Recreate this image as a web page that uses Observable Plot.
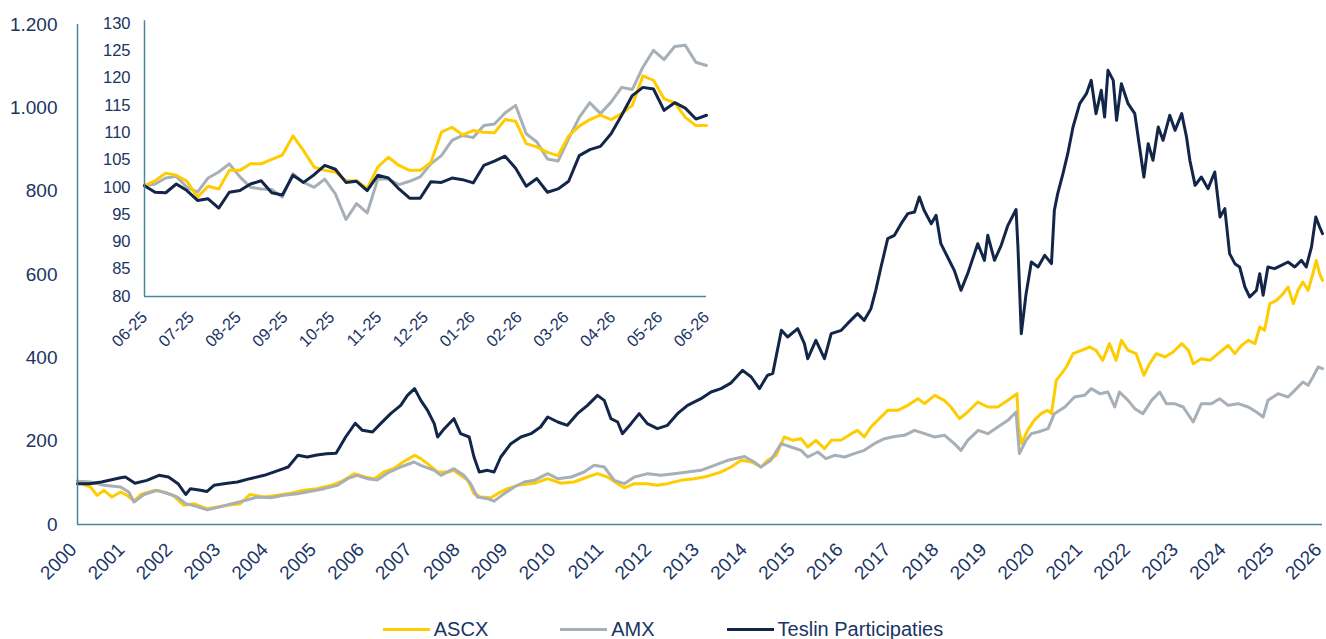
<!DOCTYPE html>
<html><head><meta charset="utf-8">
<script src="https://cdn.jsdelivr.net/npm/d3@7"></script>
<script src="https://cdn.jsdelivr.net/npm/@observablehq/plot@0.6"></script>
<style>
html,body{margin:0;padding:0;background:#fff;width:1326px;height:639px;overflow:hidden;font-family:"Liberation Sans",Arial,sans-serif;}
#wrap{position:relative;width:1326px;height:612px;}
#inset{position:absolute;left:0;top:0;}
#legend{display:flex;justify-content:center;align-items:center;gap:72px;height:20px;margin-top:7px;font-size:20px;color:#1b3464;line-height:20px;}
.item{display:flex;align-items:center;white-space:nowrap;}
.sw{width:47px;height:3px;margin-right:4px;}
</style></head>
<body>
<div id="wrap"><div id="main"></div><div id="inset"></div></div>
<div id="legend"></div>
<script>
// ---- Data (x = position on year axis, value = index, start = 100) ----
const years = [2000,2001,2002,2003,2004,2005,2006,2007,2008,2009,2010,2011,2012,2013,2014,2015,2016,2017,2018,2019,2020,2021,2022,2023,2024,2025,2026];
const yTicks = [0,200,400,600,800,1000,1200];

const ascx = [[2000.00,102],[2000.27,90],[2000.41,70],[2000.55,82],[2000.72,66],[2000.90,78],[2001.04,70],[2001.18,56],[2001.32,72],[2001.60,82],[2001.80,78],[2002.00,70],[2002.22,46],[2002.43,50],[2002.70,38],[2002.92,42],[2003.13,46],[2003.40,50],[2003.60,72],[2003.90,66],[2004.17,70],[2004.45,75],[2004.73,82],[2005.00,86],[2005.30,94],[2005.56,106],[2005.78,122],[2006.00,114],[2006.20,110],[2006.40,126],[2006.60,134],[2006.80,150],[2006.92,158],[2007.04,166],[2007.17,158],[2007.31,146],[2007.52,126],[2007.73,126],[2007.86,130],[2008.00,118],[2008.15,106],[2008.28,74],[2008.42,66],[2008.63,64],[2008.77,74],[2008.98,86],[2009.19,94],[2009.54,99],[2009.82,110],[2010.10,99],[2010.37,102],[2010.65,114],[2010.86,122],[2011.07,114],[2011.28,98],[2011.42,88],[2011.63,98],[2011.90,98],[2012.11,94],[2012.32,98],[2012.60,106],[2012.88,110],[2013.16,116],[2013.44,126],[2013.65,138],[2013.86,154],[2014.07,150],[2014.28,138],[2014.41,154],[2014.59,166],[2014.76,210],[2014.94,202],[2015.11,206],[2015.25,186],[2015.42,202],[2015.60,182],[2015.74,202],[2015.95,203],[2016.16,218],[2016.29,226],[2016.43,210],[2016.57,234],[2016.78,258],[2016.92,274],[2017.13,274],[2017.34,286],[2017.55,302],[2017.69,290],[2017.90,310],[2018.10,298],[2018.24,282],[2018.42,254],[2018.59,270],[2018.80,294],[2019.01,282],[2019.22,282],[2019.43,298],[2019.62,314],[2019.65,234],[2019.72,194],[2019.84,226],[2019.98,250],[2020.12,266],[2020.26,274],[2020.34,266],[2020.44,346],[2020.55,362],[2020.65,378],[2020.79,410],[2020.97,418],[2021.14,426],[2021.27,418],[2021.41,394],[2021.55,434],[2021.69,394],[2021.80,442],[2021.94,418],[2022.11,410],[2022.27,358],[2022.39,386],[2022.53,410],[2022.71,402],[2022.88,414],[2023.06,434],[2023.20,418],[2023.30,386],[2023.47,398],[2023.65,394],[2023.82,410],[2024.03,430],[2024.17,410],[2024.31,430],[2024.45,442],[2024.59,434],[2024.69,474],[2024.79,466],[2024.90,530],[2025.04,538],[2025.18,554],[2025.28,570],[2025.39,530],[2025.49,562],[2025.59,582],[2025.70,562],[2025.80,602],[2025.87,634],[2025.94,602],[2026.00,586]];

const amx = [[2000.00,104],[2000.27,102],[2000.55,94],[2000.90,90],[2001.07,78],[2001.18,54],[2001.39,72],[2001.66,82],[2001.87,75],[2002.08,66],[2002.26,50],[2002.50,43],[2002.71,35],[2002.99,43],[2003.27,51],[2003.55,59],[2003.75,66],[2004.03,64],[2004.31,70],[2004.59,74],[2004.87,80],[2005.15,86],[2005.43,94],[2005.64,110],[2005.84,118],[2006.05,110],[2006.26,107],[2006.47,123],[2006.75,138],[2007.03,150],[2007.17,142],[2007.45,130],[2007.59,118],[2007.86,134],[2008.07,118],[2008.21,98],[2008.35,66],[2008.56,62],[2008.70,56],[2008.91,74],[2009.12,90],[2009.33,102],[2009.54,106],[2009.82,122],[2010.03,110],[2010.31,114],[2010.58,126],[2010.79,142],[2011.00,138],[2011.21,106],[2011.42,98],[2011.63,114],[2011.91,122],[2012.18,118],[2012.46,122],[2012.74,126],[2013.02,130],[2013.30,142],[2013.58,154],[2013.93,163],[2014.13,150],[2014.27,138],[2014.48,154],[2014.69,194],[2014.90,186],[2015.11,178],[2015.25,162],[2015.46,174],[2015.63,158],[2015.81,166],[2016.02,162],[2016.22,170],[2016.43,178],[2016.64,194],[2016.85,206],[2017.06,211],[2017.27,214],[2017.48,226],[2017.69,218],[2017.90,210],[2018.11,214],[2018.31,194],[2018.45,178],[2018.59,202],[2018.81,226],[2019.01,218],[2019.22,234],[2019.43,250],[2019.60,270],[2019.67,170],[2019.81,202],[2019.92,218],[2020.06,222],[2020.27,230],[2020.40,266],[2020.62,282],[2020.82,306],[2021.03,310],[2021.17,326],[2021.35,314],[2021.52,318],[2021.66,282],[2021.76,318],[2021.94,298],[2022.08,278],[2022.25,266],[2022.43,298],[2022.60,318],[2022.74,290],[2022.91,290],[2023.09,282],[2023.30,246],[2023.47,290],[2023.68,290],[2023.85,302],[2024.03,286],[2024.24,290],[2024.45,282],[2024.62,270],[2024.76,258],[2024.86,298],[2025.07,314],[2025.28,306],[2025.42,322],[2025.59,342],[2025.70,334],[2025.80,354],[2025.91,378],[2026.00,374]];

const teslin = [[2000.00,98],[2000.25,98],[2000.50,102],[2000.90,112],[2001.00,114],[2001.20,99],[2001.45,106],[2001.70,118],[2001.90,114],[2002.10,98],[2002.26,72],[2002.36,86],[2002.57,82],[2002.70,79],[2002.85,94],[2003.13,99],[2003.34,102],[2003.60,110],[2003.90,118],[2004.20,130],[2004.40,138],[2004.60,166],[2004.80,162],[2005.00,167],[2005.20,170],[2005.40,171],[2005.60,210],[2005.80,243],[2005.95,226],[2006.16,222],[2006.33,242],[2006.54,266],[2006.75,286],[2006.89,310],[2007.04,326],[2007.17,298],[2007.31,274],[2007.45,242],[2007.52,210],[2007.66,230],[2007.86,254],[2008.00,218],[2008.18,210],[2008.28,162],[2008.39,126],[2008.56,130],[2008.70,126],[2008.84,162],[2009.05,194],[2009.26,210],[2009.47,218],[2009.67,234],[2009.82,258],[2010.03,246],[2010.23,238],[2010.44,266],[2010.65,286],[2010.86,310],[2011.00,298],[2011.14,254],[2011.28,246],[2011.38,218],[2011.56,242],[2011.73,266],[2011.90,242],[2012.11,230],[2012.32,238],[2012.53,266],[2012.74,286],[2013.02,302],[2013.23,318],[2013.44,326],[2013.65,340],[2013.89,370],[2014.07,354],[2014.24,326],[2014.41,358],[2014.52,363],[2014.70,466],[2014.83,450],[2015.04,470],[2015.18,434],[2015.25,398],[2015.42,442],[2015.60,398],[2015.74,458],[2015.95,466],[2016.08,482],[2016.29,506],[2016.43,490],[2016.57,518],[2016.67,562],[2016.78,618],[2016.92,686],[2017.06,694],[2017.20,722],[2017.34,746],[2017.48,750],[2017.58,786],[2017.68,754],[2017.83,722],[2017.93,742],[2018.03,674],[2018.17,642],[2018.31,610],[2018.45,562],[2018.59,602],[2018.80,674],[2018.94,634],[2019.01,694],[2019.15,634],[2019.29,670],[2019.43,718],[2019.60,756],[2019.64,666],[2019.71,458],[2019.81,554],[2019.92,630],[2020.06,618],[2020.20,646],[2020.34,626],[2020.40,754],[2020.47,794],[2020.58,842],[2020.68,890],[2020.79,954],[2020.93,1010],[2021.07,1034],[2021.17,1066],[2021.27,986],[2021.38,1042],[2021.45,978],[2021.52,1090],[2021.63,1066],[2021.70,970],[2021.80,1058],[2021.94,1010],[2022.08,986],[2022.18,906],[2022.27,834],[2022.36,914],[2022.46,874],[2022.57,954],[2022.67,922],[2022.81,982],[2022.92,946],[2023.06,986],[2023.16,930],[2023.23,874],[2023.34,814],[2023.47,834],[2023.61,806],[2023.75,846],[2023.86,738],[2023.96,758],[2024.06,650],[2024.17,626],[2024.27,618],[2024.38,570],[2024.48,546],[2024.62,562],[2024.69,602],[2024.76,550],[2024.86,618],[2025.00,614],[2025.14,622],[2025.28,630],[2025.42,618],[2025.56,634],[2025.66,618],[2025.77,666],[2025.86,738],[2025.94,714],[2026.00,698]];

// Inset: weekly index values, June 2025 - June 2026
const insetLabels = ["06-25","07-25","08-25","09-25","10-25","11-25","12-25","01-26","02-26","03-26","04-26","05-26","06-26"];
const insetTicks = [80,85,90,95,100,105,110,115,120,125,130];
const ascxInset = [100.3,101.2,102.6,102.2,101.1,98.2,100.2,99.7,103.1,103.1,104.3,104.3,105.1,105.9,109.4,106.7,103.7,103.1,102.8,101.2,101.2,99.8,103.7,105.5,104.0,103.1,103.1,104.5,110.1,111.0,109.6,110.4,110.1,110.0,112.4,112.1,108.0,107.4,106.4,105.8,109.4,111.2,112.4,113.2,112.4,113.5,115.0,120.4,119.6,116.2,115.5,112.8,111.3,111.3];
const amxInset = [100.3,100.6,101.7,102.0,100.0,99.1,101.7,102.8,104.3,101.9,100.0,99.7,99.6,98.2,102.5,100.9,100.0,101.5,98.8,94.1,97.0,95.3,101.5,101.5,100.5,101.1,101.9,104.3,105.8,108.6,109.5,109.1,111.3,111.6,113.6,115.0,109.8,108.3,105.2,104.8,108.9,112.8,115.5,113.5,115.6,118.3,117.9,122.0,125.1,123.4,125.8,126.0,122.9,122.3];
const teslinInset = [100.3,99.1,99.0,100.6,99.4,97.6,97.9,96.2,99.1,99.4,100.6,101.2,99.0,98.6,102.2,100.9,102.3,104.0,103.3,100.9,101.1,99.4,102.2,101.7,99.7,98.0,98.0,101.0,100.9,101.7,101.4,100.8,104.0,104.8,105.7,103.5,100.2,101.6,99.1,99.7,101.1,105.8,106.9,107.5,109.8,113.2,116.8,118.3,118.0,114.1,115.5,114.5,112.5,113.2];

const seriesNames = ["ASCX","AMX","Teslin Participaties"];
const colors = ["#FFCC00","#A7AFB7","#13264A"];
const textColor = "#1B3464";
const axisColor = "#4A8899";

const nl = d => d3.format(",")(d).replace(/,/g, ".");

const mainSvg = Plot.plot({
  width: 1326, height: 612,
  marginLeft: 77, marginRight: 4, marginTop: 24, marginBottom: 88,
  style: {fontFamily: '"Liberation Sans", Arial, sans-serif', fontSize: "19px", color: textColor, background: "transparent", overflow: "visible"},
  x: {domain: [2000, 2026]},
  y: {domain: [0, 1200]},
  marks: [
    Plot.axisY({ticks: yTicks, tickSize: 0, tickPadding: 20, tickFormat: nl, label: null, fontSize: 19}),
    Plot.axisX({ticks: years, tickSize: 0, tickPadding: 22, tickRotate: -45, tickFormat: d => String(d), label: null, fontSize: 19, dx: -4}),
    Plot.line(ascx, {x: d => d[0], y: d => d[1], stroke: colors[0], strokeWidth: 3, strokeLinejoin: "round"}),
    Plot.line(amx, {x: d => d[0], y: d => d[1], stroke: colors[1], strokeWidth: 3, strokeLinejoin: "round"}),
    Plot.line(teslin, {x: d => d[0], y: d => d[1], stroke: colors[2], strokeWidth: 3, strokeLinejoin: "round"}),
    Plot.ruleX([2000], {stroke: axisColor, strokeWidth: 1.5}),
    Plot.ruleY([0], {stroke: axisColor, strokeWidth: 1.5})
  ]
});
document.getElementById("main").appendChild(mainSvg);

const n = ascxInset.length;
const idx = d3.range(n);
const insetTickPos = insetLabels.map((_, k) => k * (n - 1) / (insetLabels.length - 1));
const insetSvg = Plot.plot({
  width: 720, height: 360,
  marginLeft: 144, marginRight: 14, marginTop: 23, marginBottom: 64,
  style: {fontFamily: '"Liberation Sans", Arial, sans-serif', fontSize: "16.5px", color: textColor, background: "transparent", overflow: "visible"},
  x: {domain: [0, n - 1]},
  y: {domain: [80, 130]},
  marks: [
    Plot.axisY({ticks: insetTicks, tickSize: 0, tickPadding: 14, label: null, fontSize: 16.5}),
    Plot.axisX({ticks: insetTickPos, tickSize: 0, tickPadding: 18, tickRotate: -45, tickFormat: (d, i) => insetLabels[i], label: null, fontSize: 16.5}),
    Plot.line(idx, {x: i => i, y: i => amxInset[i], stroke: colors[1], strokeWidth: 3, strokeLinejoin: "round"}),
    Plot.line(idx, {x: i => i, y: i => ascxInset[i], stroke: colors[0], strokeWidth: 3, strokeLinejoin: "round"}),
    Plot.line(idx, {x: i => i, y: i => teslinInset[i], stroke: colors[2], strokeWidth: 3, strokeLinejoin: "round"}),
    Plot.ruleX([0], {y1: 80, y2: 130.5, stroke: axisColor, strokeWidth: 1.5}),
    Plot.ruleY([80], {stroke: axisColor, strokeWidth: 1.5})
  ]
});
document.getElementById("inset").appendChild(insetSvg);

const legend = document.getElementById("legend");
seriesNames.forEach((name, i) => {
  const item = document.createElement("div");
  item.className = "item";
  const sw = document.createElement("div");
  sw.className = "sw";
  sw.style.background = colors[i];
  const lab = document.createElement("span");
  lab.textContent = name;
  item.appendChild(sw); item.appendChild(lab);
  legend.appendChild(item);
});
</script>
</body></html>
